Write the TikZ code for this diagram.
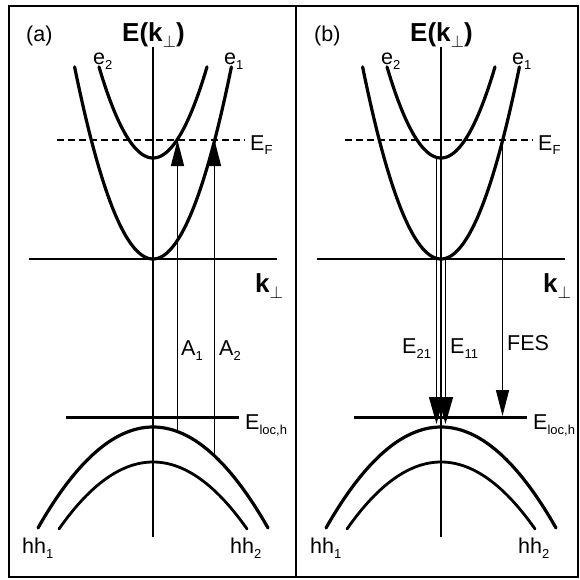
\documentclass[tikz,border=0pt]{standalone}
\usepackage{fontspec}
\setmainfont{Liberation Sans}
\usetikzlibrary{arrows.meta}
\newcommand{\lsub}[1]{\raisebox{-5pt}{\fontsize{13}{13}\selectfont #1}}
\newcommand{\perpsub}{\raisebox{-6pt}{\fontsize{17}{17}\selectfont$\perp$}}
\begin{document}
\begin{tikzpicture}[x=1pt,y=-1pt,
  lbl/.style={anchor=base west, inner sep=0pt, font=\fontsize{21.5}{21.5}\selectfont},
  ttl/.style={anchor=base west, inner sep=0pt, font=\fontsize{26}{26}\selectfont\bfseries},
  band/.style={line width=3.2pt, line cap=round},
  bandthin/.style={line width=2.8pt, line cap=round},
  vaxis/.style={line width=1.6pt},
  kaxis/.style={line width=2pt},
  fermi/.style={line width=2pt, dash pattern=on 7pt off 4pt},
  loc/.style={line width=3pt},
  frame/.style={line width=2.5pt},
  trans/.style={line width=1.3pt, -{Triangle[length=26pt,width=13pt]}},
  emis/.style={line width=1.3pt, -{Triangle[length=27pt,width=15pt]}}
]
\useasboundingbox (0,0) rectangle (579,580);
\draw[frame] (9,6) rectangle (578,577);
\draw[frame] (296,6) -- (296,577);

\foreach \p/\o/\lab in {a/0/(a),b/288/(b)} {
  \begin{scope}[xshift=\o]
    % axes
    \coordinate (vt\p) at (153,47);
    \coordinate (vb\p) at (153,537);
    \draw[vaxis] (vt\p) -- (vb\p);
    \coordinate (kl\p) at (29,259);
    \coordinate (kr\p) at (277,259);
    \draw[kaxis] (kl\p) -- (kr\p);
    % Fermi level
    \coordinate (fl\p) at (57,140);
    \coordinate (fr\p) at (245,140);
    \draw[fermi] (fl\p) -- (fr\p);
    % localized hole level
    \coordinate (ll\p) at (66,417);
    \coordinate (lr\p) at (239,417);
    \draw[loc] (ll\p) -- (lr\p);
    % bands
    \draw[band] plot[domain=-78.4:78.4, samples=80, smooth] ({153+\x},{259-\x*\x/32});
    \draw[band] plot[domain=-54:54, samples=60, smooth] ({153+\x},{158-\x*\x/32});
    \draw[band] plot[domain=-115:115, samples=80, smooth] ({153+\x},{427+\x*\x/131});
    \draw[bandthin] plot[domain=-94:94, samples=70, smooth] ({153+\x},{462+\x*\x/132});
    % labels
    \node[lbl] (pl\p) at (26,42) {\lab};
    \node[ttl] (et\p) at (122,42) {E(k\perpsub)};
    \node[ttl] (kk\p) at (255,292) {k\perpsub};
    \node[lbl] (le2\p) at (93,65) {e\lsub{2}};
    \node[lbl] (le1\p) at (224,65) {e\lsub{1}};
    \node[lbl] (lef\p) at (250,150) {E\lsub{F}};
    \node[lbl] (lel\p) at (245,429) {E\lsub{loc,h}};
    \node[lbl] (lh1\p) at (22,553) {hh\lsub{1}};
    \node[lbl] (lh2\p) at (230,553) {hh\lsub{2}};
  \end{scope}
}

% panel (a): absorption
\coordinate (a1b) at (177.5,431.4);
\coordinate (a1t) at (177.5,140);
\coordinate (a2b) at (214.5,456);
\coordinate (a2t) at (214.5,140);
\draw[trans] (a1b) -- (a1t);
\draw[trans] (a2b) -- (a2t);
\node[lbl] (la1) at (181,355) {A\lsub{1}};
\node[lbl] (la2) at (219,355) {A\lsub{2}};

% panel (b): emission
\coordinate (e21t) at (436.5,158.8);
\coordinate (e21b) at (436.5,424);
\coordinate (e11t) at (445.5,259.5);
\coordinate (e11b) at (445.5,424);
\coordinate (fest) at (502.5,140);
\coordinate (fesb) at (502.5,416);
\draw[emis] (e21t) -- (e21b);
\draw[emis] (e11t) -- (e11b);
\draw[trans] (fest) -- (fesb);
\node[lbl] (le21) at (402,353) {E\lsub{21}};
\node[lbl] (le11) at (450,353) {E\lsub{11}};
\node[lbl] (lfes) at (507,350) {FES};
\end{tikzpicture}
\end{document}
